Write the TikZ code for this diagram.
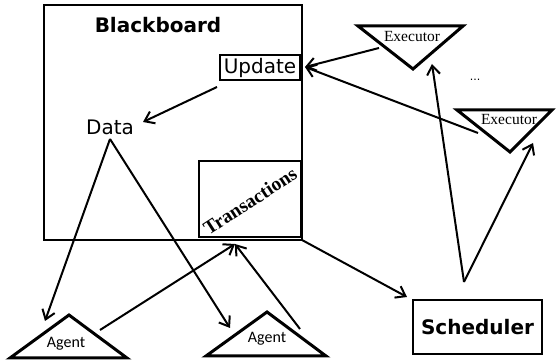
\documentclass[tikz,border=0pt]{standalone}
\usepackage{fontspec}
\setmainfont{DejaVu Sans}
\newfontfamily\exfont{Liberation Serif}
\newfontfamily\agfont{Carlito}
\usetikzlibrary{arrows.meta}
\begin{document}
\begin{tikzpicture}[x=1pt,y=-1pt,
  box/.style={draw, rectangle, line width=2.5pt, inner sep=0pt},
  arr/.style={line width=2pt, -{Straight Barb[length=9pt,width=13pt]}},
  tri/.style={draw, line width=3pt, line join=miter},
  lbl/.style={inner sep=0pt},
  big/.style={font=\fontsize{20}{24}\selectfont},
  bigb/.style={font=\bfseries\fontsize{20}{24}\selectfont},
  exec/.style={lbl, font=\exfont\fontsize{15.5}{18}\selectfont},
  agent/.style={lbl, font=\agfont\fontsize{16}{19}\selectfont}]
\useasboundingbox (0,0) rectangle (558,363);

% Blackboard
\node[box, minimum width=258pt, minimum height=235pt] (bb) at (173,122.5) {};
\node[lbl, bigb] (bbt) at (158,25) {Blackboard};
\node[box, line width=2pt, minimum width=80pt, minimum height=25pt, big] (upd) at (260,67.5) {Update};
\node[lbl, big] (data) at (110,127) {Data};
\node[box, minimum width=102pt, minimum height=76pt] (trans) at (250,199) {};
\node[lbl, rotate=33, font=\exfont\bfseries\fontsize{19.5}{22}\selectfont] (transt) at (250,201) {Transactions};

% Scheduler
\node[box, minimum width=129pt, minimum height=54pt, bigb] (sched) at (477.5,327) {Scheduler};

% Executors
\draw[tri] (358,26) -- (463,26) -- (413,69) -- cycle;
\node[exec] (ex1) at (412,37) {Executor};
\draw[tri] (457,110) -- (552,110) -- (510,152) -- cycle;
\node[exec] (ex2) at (509,120) {Executor};
\node[lbl, font=\fontsize{11}{13}\selectfont] (dots) at (475,80) {...};

% Agents
\draw[tri] (69,315) -- (10,358) -- (127,358) -- cycle;
\node[agent] (ag1) at (66,344) {Agent};
\draw[tri] (267,312) -- (206,356) -- (326,356) -- cycle;
\node[agent] (ag2) at (267,339) {Agent};

% connector end points
\coordinate (updS) at (217,87);
\coordinate (dataE) at (143,122);
\coordinate (ex1S) at (379,48);
\coordinate (ex2S) at (478,133);
\coordinate (updE) at (305,67);
\coordinate (dataS) at (110,139);
\coordinate (ag1E) at (45,321);
\coordinate (ag2E) at (230,328);
\coordinate (ag1S) at (100,330);
\coordinate (ag2S) at (300,329);
\coordinate (transE) at (235,244);
\coordinate (bbS) at (302,240);
\coordinate (schedE) at (407,297);
\coordinate (schedS) at (464,282);
\coordinate (ex1E) at (432,64);
\coordinate (ex2E) at (533,143);

\draw[arr] (updS) -- (dataE);
\draw[arr] (ex1S) -- (updE);
\draw[arr] (ex2S) -- (updE);
\draw[arr] (dataS) -- (ag1E);
\draw[arr] (dataS) -- (ag2E);
\draw[arr] (ag1S) -- (transE);
\draw[arr] (ag2S) -- (transE);
\draw[arr] (bbS) -- (schedE);
\draw[arr] (schedS) -- (ex1E);
\draw[arr] (schedS) -- (ex2E);
\end{tikzpicture}
\end{document}
